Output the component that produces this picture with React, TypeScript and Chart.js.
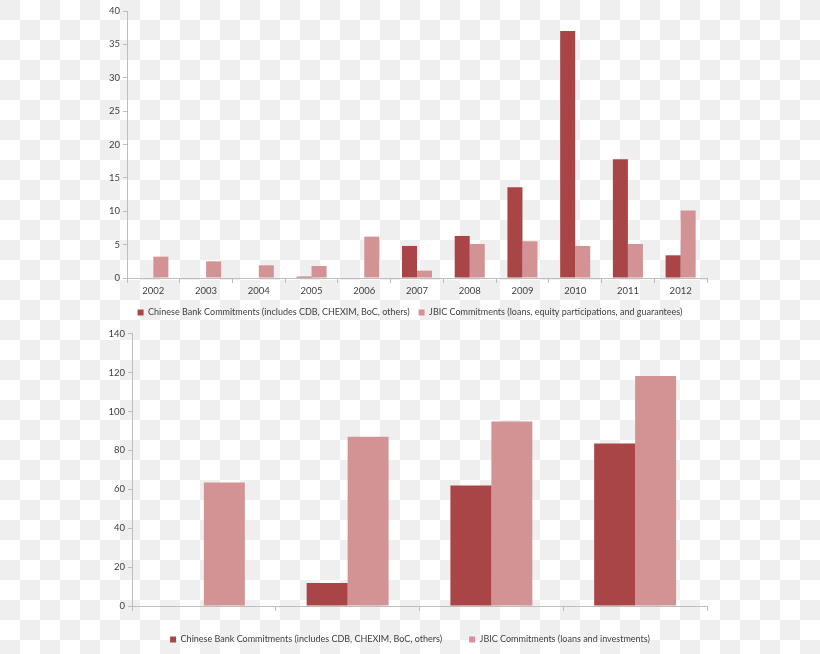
import React, { useEffect, useRef } from 'react';
import { Chart, registerables } from 'chart.js';

Chart.register(...registerables);

const topYears = ['2002', '2003', '2004', '2005', '2006', '2007', '2008', '2009', '2010', '2011', '2012'];
const topChinese = [0, 0, 0, 0.2, 0, 4.8, 6.3, 13.6, 37, 17.8, 3.4];
const topJbic = [3.2, 2.5, 1.9, 1.8, 6.2, 1.1, 5.1, 5.5, 4.8, 5.1, 10.1];
const topChineseLabel = 'Chinese Bank Commitments (includes CDB, CHEXIM, BoC, others)';
const topJbicLabel = 'JBIC Commitments (loans, equity participations, and guarantees)';

const bottomYears = ['2006', '2008', '2010', '2012'];
const bottomChinese = [0.3, 11.8, 62, 83.5];
const bottomJbic = [63.5, 87, 94.8, 118.3];
const bottomChineseLabel = 'Chinese Bank Commitments (includes CDB, CHEXIM, BoC, others)';
const bottomJbicLabel = 'JBIC Commitments (loans and investments)';

const DARK = '#a94546';
const LIGHT = '#d39293';
const AXIS = '#bdbdbd';
const TEXT = '#404040';
const FONT = 'Lato';
const TICK_SIZE = 9.5;
const LEGEND_SIZE = 9;

function makeConfig(opts: any) {
  const {
    labels, chinese, jbic, chineseLabel, jbicLabel, yMax, yStep, yWidth,
    padTop, rightSpace, xHeight, legendPad,
  } = opts;
  return {
    type: 'bar',
    data: {
      labels,
      datasets: [
        { label: chineseLabel, data: chinese, backgroundColor: DARK, borderWidth: 0 },
        { label: jbicLabel, data: jbic, backgroundColor: LIGHT, borderWidth: 0 },
      ],
    },
    options: {
      responsive: false,
      animation: false,
      layout: { padding: { left: 0, right: 0, top: padTop, bottom: 0 } },
      datasets: { bar: { categoryPercentage: 0.57, barPercentage: 1 } },
      plugins: {
        tooltip: { enabled: false },
        legend: {
          position: 'bottom',
          labels: {
            boxWidth: 6,
            boxHeight: 6,
            padding: legendPad,
            color: TEXT,
            font: { family: FONT, size: LEGEND_SIZE },
          },
        },
      },
      scales: {
        x: {
          grid: {
            offset: true,
            drawOnChartArea: false,
            drawTicks: true,
            tickLength: 5,
            color: AXIS,
          },
          border: { color: AXIS },
          ticks: { color: TEXT, font: { family: FONT, size: TICK_SIZE }, padding: 2, maxRotation: 0 },
          afterFit: (s: any) => { s.height = xHeight; },
        },
        y: {
          min: 0,
          max: yMax,
          grid: { drawOnChartArea: false, drawTicks: true, tickLength: 4, color: AXIS },
          border: { color: AXIS },
          ticks: { stepSize: yStep, color: TEXT, font: { family: FONT, size: TICK_SIZE }, padding: 3 },
          afterFit: (s: any) => { s.width = yWidth; },
        },
        ySpace: {
          position: 'right',
          min: 0,
          max: yMax,
          grid: { display: false },
          border: { display: false },
          ticks: { display: false },
          afterFit: (s: any) => { s.width = rightSpace; },
        },
      },
    },
  } as any;
}

function BarChart(props: any) {
  const ref = useRef<HTMLCanvasElement | null>(null);
  useEffect(() => {
    if (!ref.current) return;
    const chart = new Chart(ref.current, makeConfig(props.cfg));
    return () => chart.destroy();
  }, []);
  return (
    <canvas
      ref={ref}
      width={820}
      height={props.height}
      style={{ display: 'block', width: 820, height: props.height, marginTop: props.marginTop || 0 }}
    />
  );
}

export default function App() {
  return (
    <div
      style={{
        position: 'absolute',
        left: 0,
        top: 0,
        width: 820,
        height: 654,
        overflow: 'hidden',
        backgroundColor: '#ffffff',
        backgroundImage: 'repeating-conic-gradient(#ffffff 0% 25%, #efefef 0% 50%)',
        backgroundSize: '40px 40px',
      }}
    >
      <BarChart
        height={327}
        cfg={{
          labels: topYears, chinese: topChinese, jbic: topJbic,
          chineseLabel: topChineseLabel, jbicLabel: topJbicLabel,
          yMax: 40, yStep: 5, yWidth: 127,
          padTop: 11, rightSpace: 113, xHeight: 21, legendPad: 9,
        }}
      />
      <BarChart
        height={329}
        marginTop={-2}
        cfg={{
          labels: bottomYears, chinese: bottomChinese, jbic: bottomJbic,
          chineseLabel: bottomChineseLabel, jbicLabel: bottomJbicLabel,
          yMax: 140, yStep: 20, yWidth: 132,
          padTop: 6, rightSpace: 113, xHeight: 2, legendPad: 27,
        }}
      />
    </div>
  );
}
